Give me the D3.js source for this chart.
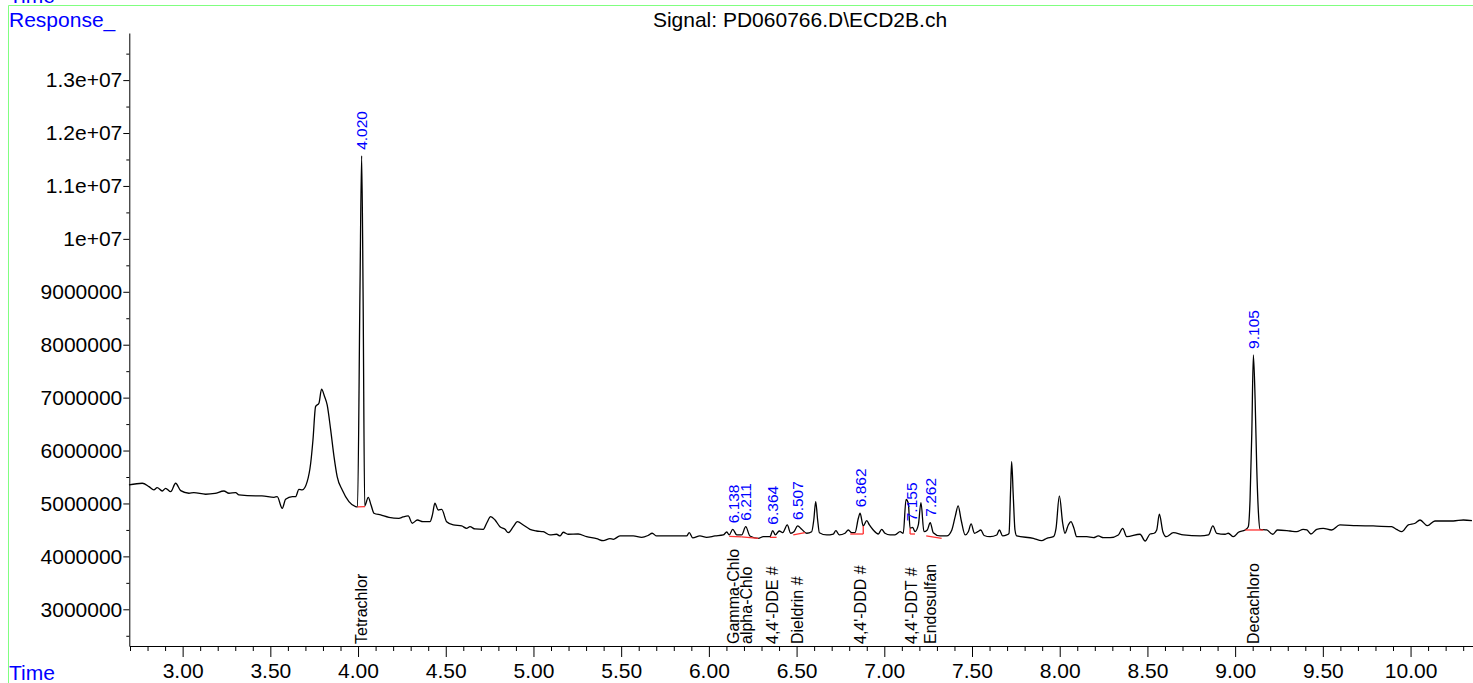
<!DOCTYPE html>
<html><head><meta charset="utf-8">
<script src="https://cdn.jsdelivr.net/npm/d3@7"></script>
<style>
body{margin:0;background:#fff}
svg{display:block}
text{font-family:"Liberation Sans",Arial,sans-serif}
</style>
</head><body>
<svg id="c" width="1473" height="683"></svg>
<script>
// ---- data (retention time in minutes, response in millions of counts) ----
const times=[2.694,2.770,2.808,2.836,2.855,2.884,2.903,2.932,2.960,2.989,
3.036,3.064,3.131,3.184,3.235,3.264,3.302,3.321,3.416,3.452,
3.521,3.539,3.568,3.587,3.625,3.644,3.663,3.682,3.710,3.730,
3.743,3.758,3.777,3.792,3.808,3.824,3.844,3.863,3.881,3.910,
3.948,3.986,3.997,4.011,4.0205,4.029,4.038,4.058,4.074,4.091,
4.129,4.176,4.233,4.256,4.286,4.309,4.338,4.370,4.410,4.424,
4.438,4.457,4.477,4.505,4.543,4.591,4.619,4.638,4.667,4.714,
4.733,4.756,4.781,4.809,4.838,4.856,4.885,4.908,4.942,4.980,
5.018,5.056,5.094,5.132,5.151,5.170,5.197,5.255,5.303,5.360,
5.398,5.436,5.455,5.493,5.569,5.617,5.653,5.677,5.702,5.797,
5.873,5.888,5.908,5.949,5.987,6.035,6.082,6.102,6.116,6.136,
6.159,6.187,6.210,6.234,6.282,6.310,6.348,6.364,6.379,6.401,
6.421,6.447,6.466,6.485,6.506,6.529,6.558,6.586,6.598,6.609,
6.620,6.630,6.672,6.709,6.724,6.743,6.776,6.795,6.814,6.833,
6.852,6.862,6.880,6.900,6.915,6.937,6.966,6.985,7.004,7.033,
7.061,7.090,7.108,7.124,7.137,7.147,7.162,7.175,7.194,7.209,
7.226,7.245,7.262,7.279,7.318,7.356,7.385,7.404,7.421,7.438,
7.461,7.479,7.495,7.514,7.533,7.550,7.569,7.603,7.641,7.656,
7.675,7.698,7.711,7.720,7.726,7.735,7.745,7.755,7.850,7.897,
7.926,7.964,7.979,7.998,8.017,8.030,8.049,8.064,8.081,8.097,
8.154,8.192,8.220,8.249,8.287,8.334,8.359,8.382,8.458,8.487,
8.515,8.538,8.553,8.568,8.588,8.607,8.648,8.705,8.801,8.848,
8.873,8.895,8.943,8.961,8.990,9.019,9.057,9.075,9.085,9.095,
9.104,9.114,9.123,9.133,9.142,9.180,9.215,9.241,9.313,9.351,
9.388,9.409,9.432,9.465,9.502,9.550,9.597,9.692,9.787,9.892,
9.920,9.950,9.987,10.026,10.054,10.096,10.139,10.244,10.301,10.350];

const responseMillions=[5.350,5.382,5.318,5.255,5.299,5.236,5.287,5.223,5.382,5.242,
5.193,5.204,5.174,5.189,5.236,5.193,5.204,5.161,5.142,5.142,
5.117,5.129,4.909,5.079,5.129,5.129,5.268,5.255,5.412,5.760,
6.200,6.830,6.894,7.159,7.032,6.862,6.390,5.885,5.507,5.255,
5.034,4.940,4.934,9.036,11.569,8.847,4.953,5.117,4.972,4.815,
4.783,4.739,4.720,4.745,4.764,4.626,4.688,4.656,4.656,4.783,
5.004,4.877,4.890,4.656,4.594,4.575,4.531,4.561,4.518,4.512,
4.626,4.751,4.688,4.561,4.512,4.448,4.561,4.656,4.594,4.512,
4.480,4.467,4.405,4.418,4.386,4.456,4.418,4.423,4.372,4.335,
4.297,4.335,4.323,4.386,4.386,4.361,4.395,4.437,4.386,4.386,
4.386,4.448,4.348,4.386,4.361,4.386,4.405,4.461,4.405,4.512,
4.405,4.405,4.561,4.386,4.342,4.372,4.372,4.486,4.405,4.480,
4.448,4.594,4.437,4.467,4.575,4.512,4.437,4.467,4.688,5.034,
4.688,4.448,4.405,4.423,4.486,4.405,4.437,4.499,4.448,4.448,
4.720,4.815,4.575,4.675,4.594,4.499,4.423,4.512,4.437,4.405,
4.405,4.467,4.437,5.079,5.004,4.531,4.550,4.467,4.594,5.015,
4.467,4.499,4.637,4.448,4.386,4.386,4.499,4.750,4.953,4.688,
4.405,4.467,4.613,4.437,4.467,4.499,4.395,4.372,4.405,4.499,
4.386,4.405,4.437,5.255,5.790,5.161,4.499,4.386,4.342,4.297,
4.342,4.372,4.531,5.142,4.626,4.437,4.594,4.656,4.531,4.372,
4.372,4.354,4.386,4.354,4.354,4.405,4.531,4.372,4.418,4.291,
4.423,4.437,4.499,4.796,4.467,4.372,4.448,4.405,4.386,4.405,
4.575,4.437,4.418,4.437,4.372,4.456,4.499,4.561,5.066,6.327,
7.807,6.957,5.696,4.815,4.512,4.499,4.418,4.499,4.480,4.467,
4.512,4.499,4.423,4.512,4.531,4.499,4.594,4.580,4.575,4.561,
4.512,4.467,4.594,4.626,4.688,4.580,4.669,4.669,4.688,4.675];

// identified peaks
const peakRT=[4.020,6.138,6.211,6.364,6.507,6.862,7.155,7.262,9.105];
const peakRTLabels=["4.020","6.138","6.211","6.364","6.507","6.862","7.155","7.262","9.105"];
const peakApexMillions=[11.569,4.512,4.561,4.486,4.575,4.815,4.550,4.637,7.807];
const compoundNames=["Tetrachlor","Gamma-Chlo","alpha-Chlo","4,4'-DDE #","Dieldrin #","4,4'-DDD #","4,4'-DDT #","Endosulfan","Decachloro"];

// integration baselines (start time, start response, end time, end response)
const baseStartT=[3.997,6.116,6.187,6.348,6.481,6.806,7.147,7.239,9.057];
const baseStartV=[4.934,4.380,4.370,4.360,4.405,4.423,4.423,4.386,4.499];
const baseEndT  =[4.040,6.187,6.282,6.386,6.548,6.880,7.175,7.327,9.161];
const baseEndV  =[4.940,4.370,4.342,4.360,4.448,4.423,4.423,4.342,4.499];
// drop lines
const dropT=[6.880,7.147];
const dropBottomV=[4.423,4.423];
const dropTopV=[4.575,4.531];

// axes
const xMajorTicks=[3.0,3.5,4.0,4.5,5.0,5.5,6.0,6.5,7.0,7.5,8.0,8.5,9.0,9.5,10.0];
const xTickLabels=["3.00","3.50","4.00","4.50","5.00","5.50","6.00","6.50","7.00","7.50","8.00","8.50","9.00","9.50","10.00"];
const xMinorTicks=[2.7,2.8,2.9,3.1,3.2,3.3,3.4,3.6,3.7,3.8,3.9,4.1,4.2,4.3,4.4,4.6,4.7,4.8,4.9,5.1,5.2,5.3,5.4,5.6,5.7,5.8,5.9,6.1,6.2,6.3,6.4,6.6,6.7,6.8,6.9,7.1,7.2,7.3,7.4,7.6,7.7,7.8,7.9,8.1,8.2,8.3,8.4,8.6,8.7,8.8,8.9,9.1,9.2,9.3,9.4,9.6,9.7,9.8,9.9,10.1,10.2,10.3];
const yMajorTicks=[3e6,4e6,5e6,6e6,7e6,8e6,9e6,1e7,1.1e7,1.2e7,1.3e7];
const yTickLabels=["3000000","4000000","5000000","6000000","7000000","8000000","9000000","1e+07","1.1e+07","1.2e+07","1.3e+07"];
const yMinorTicks=[2.5e6,3.5e6,4.5e6,5.5e6,6.5e6,7.5e6,8.5e6,9.5e6,1.05e7,1.15e7,1.25e7,1.35e7];

const title="Signal: PD060766.D\\ECD2B.ch";

// ---- drawing ----
const M=1e6;
const svg=d3.select("#c");
const x=d3.scaleLinear().domain([2.696,10.356]).range([129.3,1473]);
const y=d3.scaleLinear().domain([2.3067e6,1.389e7]).range([646,33]);

// green frame
svg.append("line").attr("x1",8.5).attr("x2",1473).attr("y1",5.5).attr("y2",5.5).attr("stroke","#80ff80").attr("stroke-width",1);
svg.append("line").attr("x1",8.5).attr("x2",8.5).attr("y1",5.5).attr("y2",683).attr("stroke","#80ff80").attr("stroke-width",1);

svg.append("text").attr("x",9).attr("y",3).attr("fill","#0000ff").attr("font-size",21).text("Time");
svg.append("text").attr("x",9).attr("y",27).attr("fill","#0000ff").attr("font-size",21).text("Response_");
svg.append("text").attr("x",9).attr("y",680).attr("fill","#0000ff").attr("font-size",21).text("Time");
svg.append("text").attr("x",800).attr("y",27).attr("text-anchor","middle").attr("fill","#000").attr("font-size",21).text(title);

// x axis
const gx=svg.append("g").attr("transform","translate(0,646)");
gx.call(d3.axisBottom(x).tickValues(xMinorTicks).tickSize(5).tickSizeOuter(0).tickFormat(""));
const gx2=svg.append("g").attr("transform","translate(0,646)");
gx2.call(d3.axisBottom(x).tickValues(xMajorTicks).tickSize(11).tickSizeOuter(0).tickPadding(6).tickFormat((d,i)=>xTickLabels[i]));
gx2.select(".domain").remove();
// y axis
const gy=svg.append("g").attr("transform","translate(129.3,0)");
gy.call(d3.axisLeft(y).tickValues(yMinorTicks).tickSize(3).tickSizeOuter(0).tickFormat(""));
const gy2=svg.append("g").attr("transform","translate(129.3,0)");
gy2.call(d3.axisLeft(y).tickValues(yMajorTicks).tickSize(6).tickSizeOuter(0).tickPadding(1).tickFormat((d,i)=>yTickLabels[i]));
gy2.select(".domain").remove();
svg.selectAll(".tick text").attr("font-size",21).attr("font-family","'Liberation Sans',Arial,sans-serif").attr("fill","#000");
svg.selectAll(".domain,.tick line").attr("stroke","#000");

// trace
const pts=times.map((t,i)=>[t,responseMillions[i]*M]);
const line=d3.line().x(d=>x(d[0])).y(d=>y(d[1])).curve(d3.curveMonotoneX);
svg.append("path").datum(pts).attr("d",line).attr("fill","none").attr("stroke","#000").attr("stroke-width",1.3).attr("stroke-linejoin","round");

// integration baselines
baseStartT.forEach((t,i)=>{
  svg.append("line").attr("x1",x(t)).attr("y1",y(baseStartV[i]*M)).attr("x2",x(baseEndT[i])).attr("y2",y(baseEndV[i]*M))
    .attr("stroke","#ff3030").attr("stroke-width",1.3);
});
dropT.forEach((t,i)=>{
  svg.append("line").attr("x1",x(t)).attr("x2",x(t)).attr("y1",y(dropBottomV[i]*M)).attr("y2",y(dropTopV[i]*M))
    .attr("stroke","#ff3030").attr("stroke-width",1.3);
});

// retention time labels
peakRT.forEach((t,i)=>{
  svg.append("text").attr("transform",`translate(${x(t)},${y(peakApexMillions[i]*M)-6}) rotate(-90)`)
    .attr("dy","0.35em").attr("fill","#0000ff").attr("font-size",15.5).text(peakRTLabels[i]);
});
// compound names
peakRT.forEach((t,i)=>{
  svg.append("text").attr("transform",`translate(${x(t)},644) rotate(-90)`)
    .attr("dy","0.35em").attr("fill","#000").attr("font-size",16).text(compoundNames[i]);
});
</script>
</body></html>
